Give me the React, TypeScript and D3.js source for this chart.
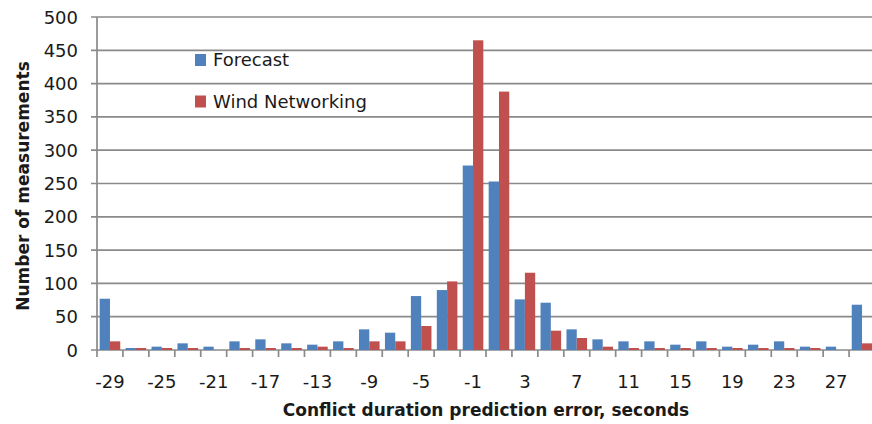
import * as React from "react";
import * as d3 from "d3";

// error bins (seconds)
const categories: number[] = [-29, -27, -25, -23, -21, -19, -17, -15, -13, -11, -9, -7, -5, -3, -1,
    1, 3, 5, 7, 9, 11, 13, 15, 17, 19, 21, 23, 25, 27, 29];
const forecast: number[] = [77, 3, 5, 10, 5, 13, 16, 10, 8, 13, 31, 26, 81, 90, 277,
    253, 76, 71, 31, 16, 13, 13, 8, 13, 5, 8, 13, 5, 5, 68];
const windNetworking: number[] = [13, 3, 3, 3, 0, 3, 3, 3, 5, 3, 13, 13, 36, 103, 465,
    388, 116, 29, 18, 5, 3, 3, 3, 3, 3, 3, 3, 3, 0, 10];
const seriesNames: string[] = ["Forecast", "Wind Networking"];
const seriesColors: string[] = ["#4F81BD", "#C0504D"];
const yTicks: number[] = [0, 50, 100, 150, 200, 250, 300, 350, 400, 450, 500];
const xLabels: number[] = [-29, -25, -21, -17, -13, -9, -5, -1, 3, 7, 11, 15, 19, 23, 27];

const width: number = 872;
const height: number = 424;
const margin = { top: 17, left: 97, bottom: 74, right: -3 };
const gridColor: string = "#8a8a8a";
const font: string = "'DejaVu Sans', sans-serif";

export default function App(): JSX.Element {
    const ref = React.useRef<SVGSVGElement>(null);

    React.useEffect(() => {
        const svg = d3.select(ref.current);
        svg.selectAll("*").remove();

        const x = d3.scaleBand<number>()
            .domain(categories)
            .range([margin.left, width - margin.right])
            .padding(0);
        const inner = d3.scaleBand<string>()
            .domain(seriesNames)
            .range([0, x.bandwidth()])
            .paddingInner(0)
            .paddingOuter(0.26);
        const y = d3.scaleLinear()
            .domain([0, 500])
            .range([height - margin.bottom, margin.top]);

        // gridlines
        svg.append("g")
            .selectAll("line")
            .data(yTicks)
            .enter().append("line")
            .attr("x1", margin.left - 6)
            .attr("x2", width)
            .attr("y1", (d: number) => y(d))
            .attr("y2", (d: number) => y(d))
            .attr("stroke", gridColor)
            .attr("stroke-width", 1.7);

        // y axis line
        svg.append("line")
            .attr("x1", margin.left).attr("x2", margin.left)
            .attr("y1", y(500)).attr("y2", y(0))
            .attr("stroke", gridColor).attr("stroke-width", 1.7);

        // x ticks at band edges
        const edges: number[] = categories.map((c: number) => x(c) as number);
        svg.append("g")
            .selectAll("line")
            .data(edges)
            .enter().append("line")
            .attr("x1", (d: number) => d).attr("x2", (d: number) => d)
            .attr("y1", y(0)).attr("y2", y(0) + 7)
            .attr("stroke", gridColor).attr("stroke-width", 1.7);

        // bars
        const rows = categories.map((c: number, i: number) => ({ c, values: [forecast[i], windNetworking[i]] }));
        const groups = svg.append("g")
            .selectAll("g")
            .data(rows)
            .enter().append("g")
            .attr("transform", (d) => `translate(${x(d.c)},0)`);
        groups.selectAll("rect")
            .data((d) => d.values.map((v: number, k: number) => ({ v, k })))
            .enter().append("rect")
            .attr("x", (d) => inner(seriesNames[d.k]) as number)
            .attr("width", inner.bandwidth())
            .attr("y", (d) => y(d.v))
            .attr("height", (d) => y(0) - y(d.v))
            .attr("fill", (d) => seriesColors[d.k]);

        // y tick labels
        svg.append("g")
            .selectAll("text")
            .data(yTicks)
            .enter().append("text")
            .attr("x", 78)
            .attr("y", (d: number) => y(d) + 6.5)
            .attr("text-anchor", "end")
            .attr("font-family", font)
            .attr("font-size", 18)
            .attr("fill", "#1a1a1a")
            .text((d: number) => d);

        // x tick labels
        svg.append("g")
            .selectAll("text")
            .data(xLabels)
            .enter().append("text")
            .attr("x", (d: number) => (x(d) as number) + x.bandwidth() / 2)
            .attr("y", 388)
            .attr("text-anchor", "middle")
            .attr("font-family", font)
            .attr("font-size", 18)
            .attr("fill", "#1a1a1a")
            .text((d: number) => d);

        // axis titles
        svg.append("text")
            .attr("x", 486)
            .attr("y", 416)
            .attr("text-anchor", "middle")
            .attr("font-family", font)
            .attr("font-weight", "bold")
            .attr("font-size", 17)
            .attr("fill", "#1a1a1a")
            .text("Conflict duration prediction error, seconds");
        svg.append("text")
            .attr("transform", "translate(29,186) rotate(-90)")
            .attr("text-anchor", "middle")
            .attr("font-family", font)
            .attr("font-weight", "bold")
            .attr("font-size", 17)
            .attr("fill", "#1a1a1a")
            .text("Number of measurements");

        // legend
        const legend = svg.append("g")
            .selectAll("g")
            .data(seriesNames)
            .enter().append("g")
            .attr("transform", (d: string, i: number) => `translate(195,${54 + i * 41.5})`);
        legend.append("rect")
            .attr("width", 11).attr("height", 12)
            .attr("fill", (d: string, i: number) => seriesColors[i]);
        legend.append("text")
            .attr("x", 18).attr("y", 12)
            .attr("font-family", font)
            .attr("font-size", 18)
            .attr("fill", "#1a1a1a")
            .text((d: string) => d);
    }, []);

    return <svg ref={ref} width={width} height={height}
        style={{ position: "absolute", left: 0, top: 0, background: "#fff" }} />;
}
